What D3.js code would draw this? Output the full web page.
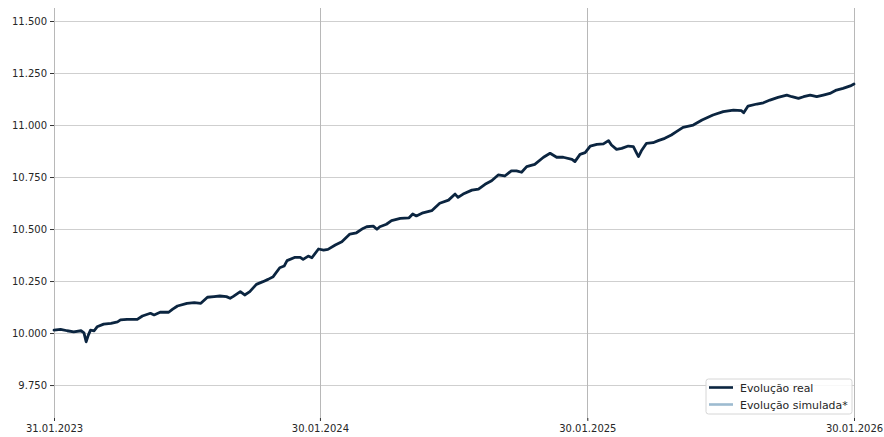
<!DOCTYPE html>
<html>
<head>
<meta charset="utf-8">
<script src="https://cdn.jsdelivr.net/npm/d3@7"></script>
<style>
html,body{margin:0;padding:0;background:#fff;}
svg{display:block;font-family:"DejaVu Sans",sans-serif;}
</style>
</head>
<body>
<svg id="chart" width="884" height="437"></svg>
<script>
const dates = [
"2023-01-31","2023-02-09","2023-02-18","2023-02-27","2023-03-09","2023-03-13","2023-03-16","2023-03-19","2023-03-22","2023-03-27",
"2023-03-31","2023-04-09","2023-04-19","2023-04-28","2023-05-02","2023-05-11","2023-05-25","2023-06-01","2023-06-12","2023-06-17",
"2023-06-26","2023-07-07","2023-07-12","2023-07-19","2023-08-01","2023-08-11","2023-08-20","2023-08-29","2023-09-07","2023-09-15",
"2023-09-24","2023-09-29","2023-10-03","2023-10-13","2023-10-19","2023-10-26","2023-11-04","2023-11-13","2023-11-20","2023-11-27",
"2023-12-06","2023-12-12","2023-12-16","2023-12-27","2024-01-03","2024-01-07","2024-01-14","2024-01-19","2024-01-28","2024-02-04",
"2024-02-10","2024-02-20","2024-02-29","2024-03-11","2024-03-20","2024-03-29","2024-04-03","2024-04-12","2024-04-17","2024-04-21",
"2024-04-30","2024-05-07","2024-05-19","2024-05-31","2024-06-05","2024-06-10","2024-06-19","2024-07-01","2024-07-12","2024-07-24",
"2024-08-02","2024-08-06","2024-08-13","2024-08-25","2024-09-03","2024-09-12","2024-09-21","2024-09-30","2024-10-09","2024-10-18",
"2024-10-25","2024-11-01","2024-11-08","2024-11-19","2024-12-01","2024-12-10","2024-12-19","2024-12-28","2025-01-09","2025-01-13",
"2025-01-20","2025-01-27","2025-02-03","2025-02-12","2025-02-21","2025-02-28","2025-03-04","2025-03-11","2025-03-18","2025-03-27",
"2025-04-03","2025-04-08","2025-04-10","2025-04-14","2025-04-21","2025-04-30","2025-05-07","2025-05-16","2025-05-25","2025-06-01",
"2025-06-10","2025-06-24","2025-07-06","2025-07-21","2025-08-04","2025-08-18","2025-08-29","2025-09-01","2025-09-07","2025-09-19",
"2025-09-28","2025-10-07","2025-10-18","2025-10-30","2025-11-06","2025-11-15","2025-11-22","2025-12-01","2025-12-10","2025-12-19",
"2025-12-28","2026-01-06","2026-01-15","2026-01-25","2026-01-30"
];
const realValues = [
10014,10018,10011,10006,10011,10001,9958,9990,10014,10011,
10030,10043,10047,10054,10063,10066,10066,10082,10095,10087,
10101,10100,10114,10130,10143,10146,10143,10172,10175,10178,
10175,10167,10175,10199,10183,10199,10234,10247,10258,10271,
10314,10322,10348,10364,10364,10354,10370,10362,10404,10399,
10402,10423,10439,10476,10482,10503,10511,10514,10499,10511,
10523,10540,10551,10554,10572,10563,10578,10588,10624,10639,
10668,10652,10668,10687,10692,10715,10732,10760,10755,10780,
10780,10773,10800,10811,10845,10864,10845,10845,10835,10824,
10859,10867,10899,10907,10909,10925,10904,10883,10888,10899,
10896,10861,10848,10876,10912,10915,10925,10936,10952,10968,
10989,11000,11024,11048,11064,11072,11069,11059,11091,11101,
11107,11120,11133,11144,11136,11128,11136,11144,11136,11144,
11152,11168,11176,11188,11197
];
const xTickDates = ["2023-01-31","2024-01-30","2025-01-30","2026-01-30"];
const xTickLabels = ["31.01.2023","30.01.2024","30.01.2025","30.01.2026"];
const yTicks = [9750,10000,10250,10500,10750,11000,11250,11500];
const seriesNames = ["Evolução real","Evolução simulada*"];
const seriesColors = ["#0b2540","#9dbbd0"];

const parse = d3.timeParse("%Y-%m-%d");
const data = dates.map((d,i)=>({date:parse(d), value:realValues[i]}));

const svg = d3.select("#chart");
const pLeft = 54, pRight = 854, pTop = 8, pBottom = 420;

const x = d3.scaleTime().domain([parse("2023-01-31"), parse("2026-01-30")]).range([pLeft, pRight]);
const y = d3.scaleLinear().domain([9582, 11562.5]).range([pBottom, pTop]);

const loc = d3.formatLocale({decimal:",", thousands:".", grouping:[3], currency:["","€"]});
const fmt = loc.format(",.0f");

// horizontal grid
svg.append("g").selectAll("line").data(yTicks).join("line")
  .attr("x1", pLeft).attr("x2", pRight)
  .attr("y1", d=>Math.round(y(d))+0.5).attr("y2", d=>Math.round(y(d))+0.5)
  .attr("stroke","#cfcfcf").attr("stroke-width",1.2);

// vertical grid
svg.append("g").selectAll("line").data(xTickDates).join("line")
  .attr("x1", d=>Math.round(x(parse(d)))+0.5).attr("x2", d=>Math.round(x(parse(d)))+0.5)
  .attr("y1", pTop).attr("y2", pBottom)
  .attr("stroke","#b8b8b8").attr("stroke-width",1);

// y axis
const yAxis = d3.axisLeft(y).tickValues(yTicks).tickFormat(fmt).tickSize(4).tickPadding(3);
const gy = svg.append("g").attr("transform",`translate(${pLeft},0)`).call(yAxis);
gy.select(".domain").remove();
gy.selectAll(".tick line").attr("stroke","#333");
gy.selectAll(".tick text").attr("fill","#262626").style("font-size","10px").style("font-family","DejaVu Sans");

// x axis
const xAxis = d3.axisBottom(x).tickValues(xTickDates.map(parse))
  .tickFormat((d,i)=>xTickLabels[i]).tickSize(3).tickPadding(4);
const gx = svg.append("g").attr("transform",`translate(0,${pBottom-2})`).call(xAxis);
gx.select(".domain").remove();
gx.selectAll(".tick line").attr("stroke","#333");
gx.selectAll(".tick text").attr("fill","#262626").style("font-size","10px").style("font-family","DejaVu Sans");

// line
const line = d3.line().x(d=>x(d.date)).y(d=>y(d.value)).curve(d3.curveLinear);
svg.append("path").datum(data)
  .attr("d", line).attr("fill","none")
  .attr("stroke", seriesColors[0]).attr("stroke-width",2.8)
  .attr("stroke-linejoin","round").attr("stroke-linecap","round");

// legend
const lg = svg.append("g").attr("transform","translate(706,379)");
lg.append("rect").attr("x",0).attr("y",0).attr("width",146).attr("height",35)
  .attr("rx",2.5).attr("fill","#fff").attr("fill-opacity",0.85)
  .attr("stroke","#d6d6d6").attr("stroke-width",1);
seriesNames.forEach((n,i)=>{
  const yy = 8.5 + i*17;
  lg.append("line").attr("x1",3).attr("x2",27).attr("y1",yy).attr("y2",yy)
    .attr("stroke",seriesColors[i]).attr("stroke-width",2.6);
  lg.append("text").attr("x",34).attr("y",yy+4).text(n)
    .attr("fill","#262626").style("font-size","10.9px").style("font-family","DejaVu Sans");
});
</script>
</body>
</html>
